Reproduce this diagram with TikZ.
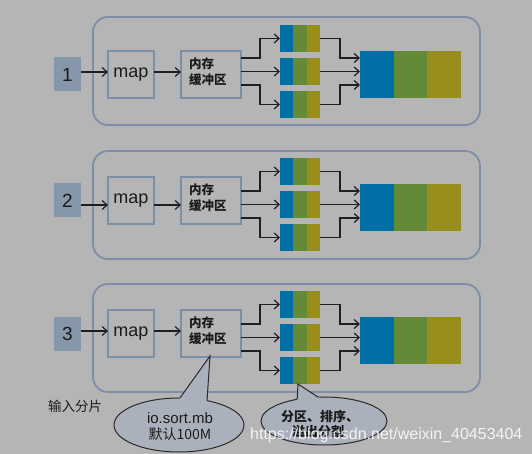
\documentclass[tikz,border=0pt]{standalone}
\usepackage{fontspec}
\setmainfont{Liberation Sans}
\newfontfamily\cjk{Noto Sans CJK SC}
\usetikzlibrary{arrows.meta,shapes.geometric,calc}
\definecolor{bg}{HTML}{B5B5B5}
\definecolor{framec}{HTML}{7F8EA6}
\definecolor{boxc}{HTML}{7B8FA9}
\definecolor{labfill}{HTML}{8797AB}
\definecolor{txt}{HTML}{1A1A1A}
\definecolor{arrc}{HTML}{1E1E1E}
\definecolor{cblue}{HTML}{006FA6}
\definecolor{cgreen}{HTML}{648A37}
\definecolor{colive}{HTML}{978E1B}
\definecolor{cfill}{HTML}{ABB1BC}
\definecolor{cline}{HTML}{2A2A2A}
\begin{document}
\begin{tikzpicture}[x=1pt,y=-1pt,
  frame/.style={draw=framec,line width=1.8,rounded corners=15pt,minimum width=387,minimum height=108,inner sep=0,outer sep=0},
  lab/.style={fill=labfill,minimum width=27,minimum height=34,inner sep=0,outer sep=0,text=txt,font=\fontsize{19}{19}\selectfont},
  box/.style={draw=boxc,line width=1.3,minimum height=47,inner sep=0,outer sep=0,text=txt},
  btext/.style={anchor=west,inner sep=0,text=txt,font=\cjk\bfseries\fontsize{12.5}{12.5}\selectfont},
  seg/.style={inner sep=0,outer sep=0,minimum height=27.5,minimum width=13.33},
  bigseg/.style={inner sep=0,outer sep=0,minimum height=47,minimum width=33.67},
  arr/.style={draw=arrc,line width=1.2,-{Straight Barb[length=5pt,width=9pt]}},
  callout/.style={ellipse,fill=cfill,draw=cline,line width=1,inner sep=0,outer sep=0},
  ctext/.style={inner sep=0,text=txt}]
\fill[bg] (0,0) rectangle (532,454);
\useasboundingbox (0,0) rectangle (532,454);
\foreach \n/\T/\yL/\yA/\yR in {1/17/74.5/72/71.5, 2/151/200.5/205/204.5, 3/284/333.5/331/337.5}{
  \node[frame] (f\n) at (286.5,\T+54) {};
  \node[lab] (lab\n) at (67.5,\yL) {\n};
  \node[box,minimum width=46,font=\fontsize{18}{18}\selectfont] (map\n) at (131,\yL) {map};
  \node[box,minimum width=60] (buf\n) at (211,\yL) {};
  \node[btext] (bt\n) at (189,\yL-10.5) {内存};
  \node[btext] (bu\n) at (189,\yL+5.5) {缓冲区};
  \coordinate (a\n) at (100,\yA);
  \draw[arr] (lab\n.east |- a\n) -- (map\n.west |- a\n);
  \draw[arr] (map\n.east |- a\n) -- (buf\n.west |- a\n);
  \foreach \k/\r in {a/-33,b/0,c/33}{
    \node[seg,fill=cblue] (sb\n-\k) at (286.67,\yR+\r) {};
    \node[seg,fill=cgreen] (sg\n-\k) at (300,\yR+\r) {};
    \node[seg,fill=colive] (so\n-\k) at (313.33,\yR+\r) {};
  }
  \node[bigseg,fill=cblue] (bb\n) at (376.8,\yR+3) {};
  \node[bigseg,fill=cgreen] (bg\n) at (410.5,\yR+3) {};
  \node[bigseg,fill=colive] (bo\n) at (444.2,\yR+3) {};
  \coordinate (ea\n) at (241,\yR-13.5);
  \coordinate (eb\n) at (241,\yR);
  \coordinate (ec\n) at (241,\yR+13.5);
  \coordinate (ma\n) at (360,\yR-13.5);
  \coordinate (mb\n) at (360,\yR);
  \coordinate (mc\n) at (360,\yR+13.5);
  \draw[arr] (ea\n) -- (260,\yR-13.5) |- (sb\n-a.west);
  \draw[arr] (eb\n) -- (sb\n-b.west);
  \draw[arr] (ec\n) -- (260,\yR+13.5) |- (sb\n-c.west);
  \draw[arr] (so\n-a.east) -- (340,\yR-33) |- (ma\n);
  \draw[arr] (so\n-b.east) -- (mb\n);
  \draw[arr] (so\n-c.east) -- (340,\yR+33) |- (mc\n);
}
\node[ctext,font=\cjk\fontsize{13.5}{13.5}\selectfont] (inp) at (75,406) {输入分片};
% callout 1
\node[callout,minimum width=130,minimum height=54] (c1) at (179,425) {};
\coordinate (t1) at (210,356);
\fill[cfill] ($(t1)!1.1!(c1.88)$) -- (t1) -- ($(t1)!1.1!(c1.41)$) -- cycle;
\draw[cline,line width=1] (c1.88) -- (t1) -- (c1.41);
\node[ctext,font=\fontsize{15}{15}\selectfont] (c1a) at (180,418) {io.sort.mb};
\node[ctext,font=\cjk\fontsize{14}{14}\selectfont] (c1b) at (180,434) {默认100M};
% callout 2
\node[callout,minimum width=126,minimum height=48] (c2) at (324,421) {};
\coordinate (t2) at (298,384);
\fill[cfill] ($(t2)!1.1!(c2.141)$) -- (t2) -- ($(t2)!1.1!(c2.104)$) -- cycle;
\draw[cline,line width=1] (c2.141) -- (t2) -- (c2.104);
\node[ctext,font=\cjk\bfseries\fontsize{13}{13}\selectfont] (c2a) at (320,417) {分区、排序、};
\node[ctext,font=\cjk\bfseries\fontsize{13}{13}\selectfont] (c2b) at (318,432) {溢出分割};
% watermark
\node[anchor=west,inner sep=0,text=white,opacity=0.85,font=\fontsize{16}{16}\selectfont] (wm) at (250,435) {https://blog.csdn.net/weixin\_40453404};
\end{tikzpicture}
\end{document}
